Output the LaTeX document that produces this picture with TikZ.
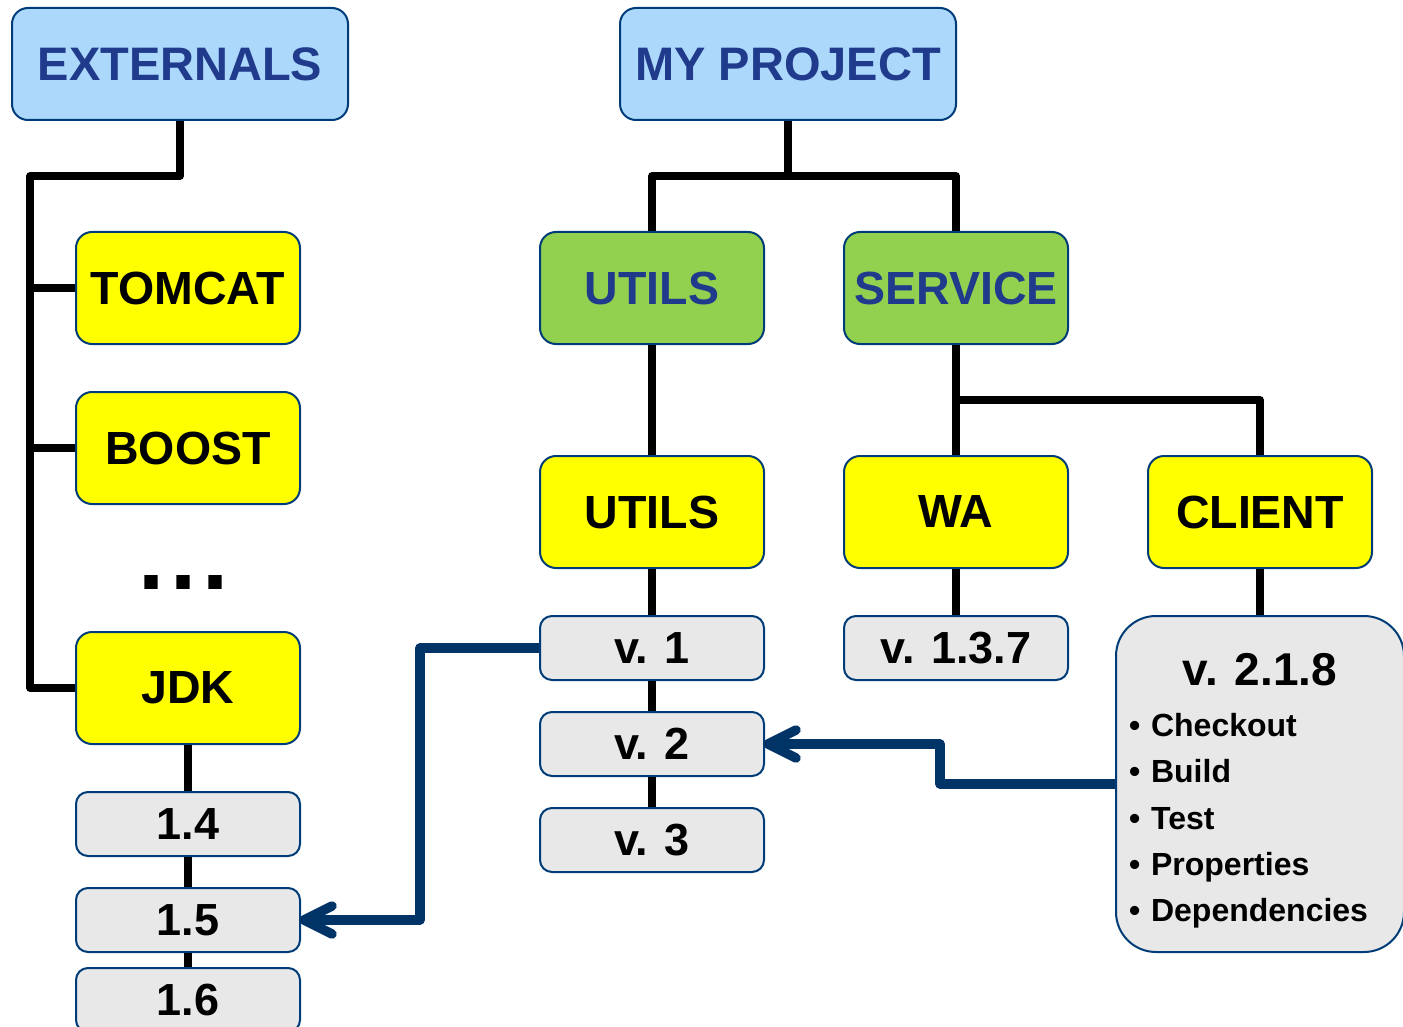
\documentclass[tikz,border=0pt]{standalone}
\usepackage{fontspec}
\setmainfont{Liberation Sans}
\usetikzlibrary{calc}
\definecolor{bordc}{RGB}{0,60,120}
\definecolor{arrc}{RGB}{0,51,102}
\definecolor{titc}{RGB}{32,58,140}
\definecolor{lblue}{RGB}{172,216,252}
\definecolor{lgreen}{RGB}{146,208,80}
\definecolor{lyellow}{RGB}{255,255,0}
\definecolor{lgray}{RGB}{232,232,232}
\tikzset{
  box/.style={draw=bordc, line width=2pt, rounded corners=16pt, minimum width=224pt, minimum height=112pt, inner sep=0pt, font=\fontsize{46.5}{50}\selectfont\bfseries},
  topbox/.style={box, fill=lblue, minimum width=336pt, text=titc, font=\fontsize{47}{52}\selectfont\bfseries},
  grnbox/.style={box, fill=lgreen, text=titc},
  ylwbox/.style={box, fill=lyellow},
  verbox/.style={box, fill=lgray, rounded corners=12pt, minimum height=64pt, font=\fontsize{45}{50}\selectfont\bfseries},
  conn/.style={draw=black, line width=7.5pt, line join=round},
  dep/.style={draw=arrc, line width=9.5pt, line join=round},
  barb/.style={draw=arrc, line width=9.5pt, line join=round, line cap=round}
}
\begin{document}
\begin{tikzpicture}[x=1pt,y=-1pt]
\useasboundingbox (0,0) rectangle (1403,1027);
\coordinate (ea) at (180,176);
\coordinate (eb) at (30,176);
\coordinate (et) at (30,288);
\coordinate (ebst) at (30,448);
\coordinate (pa) at (788,176);
\coordinate (pl) at (652,176);
\coordinate (pr) at (956,176);
\coordinate (sa) at (956,400);
\coordinate (sr) at (1260,400);
\coordinate (ba) at (420,648);
\coordinate (bb) at (420,920);
\coordinate (ca) at (940,784);
\coordinate (cb) at (940,744);

% boxes
\node[topbox] (ext) at (180,64) {EXTERNALS};
\node[topbox] (proj) at (788,64) {MY PROJECT};
\node[ylwbox] (tomcat) at (188,288) {TOMCAT};
\node[ylwbox] (boost) at (188,448) {BOOST};
\node[font=\fontsize{94}{100}\selectfont\bfseries, inner sep=0pt, anchor=base] (dots) at (183.5,589) {.\hspace{6pt}.\hspace{6pt}.};
\node[ylwbox] (jdk) at (188,688) {JDK};
\node[verbox] (j14) at (188,824) {1.4};
\node[verbox] (j15) at (188,920) {1.5};
\node[verbox] (j16) at (188,1000) {1.6};
\node[grnbox] (utilsg) at (652,288) {UTILS};
\node[grnbox] (service) at (956,288) {SERVICE};
\node[ylwbox] (utilsy) at (652,512) {UTILS};
\node[ylwbox] (wa) at (956,512) {WA};
\node[ylwbox] (client) at (1260,512) {CLIENT};
\node[verbox] (v1) at (652,648) {v. 1};
\node[verbox] (v2) at (652,744) {v. 2};
\node[verbox] (v3) at (652,840) {v. 3};
\node[verbox] (v137) at (956,648) {v. 1.3.7};
\node[verbox, rounded corners=40pt, minimum width=288pt, minimum height=336pt] (v218) at (1260,784) {};
\node[font=\fontsize{46}{50}\selectfont\bfseries, inner sep=0pt, anchor=base] (v218t) at (1260,685) {v. 2.1.8};
\node[font=\fontsize{32}{46.4}\selectfont\bfseries, inner sep=0pt, anchor=north west, align=left, text width=270pt] (v218l) at (1129,713) {\textbullet\ Checkout\\\textbullet\ Build\\\textbullet\ Test\\\textbullet\ Properties\\\textbullet\ Dependencies};

% black tree connectors
\draw[conn] (ext.south) -- (ea) -- (eb) |- (jdk.west);
\draw[conn] (et) -- (tomcat.west);
\draw[conn] (ebst) -- (boost.west);
\draw[conn] (jdk.south) -- (j14.north);
\draw[conn] (j14.south) -- (j15.north);
\draw[conn] (j15.south) -- (j16.north);
\draw[conn] (proj.south) -- (pa);
\draw[conn] (utilsg.north) -- (pl) -- (pr) -- (service.north);
\draw[conn] (utilsg.south) -- (utilsy.north);
\draw[conn] (utilsy.south) -- (v1.north);
\draw[conn] (v1.south) -- (v2.north);
\draw[conn] (v2.south) -- (v3.north);
\draw[conn] (service.south) -- (wa.north);
\draw[conn] (sa) -- (sr) -- (client.north);
\draw[conn] (wa.south) -- (v137.north);
\draw[conn] (client.south) -- (v218.north);
% dependency arrows
\draw[dep] (v1.west) -- (ba) -- (bb) -- ($(j15.east)+(4,0)$);
\draw[barb] ($(j15.east)+(31,-14)$) -- ($(j15.east)+(3,0)$) -- ($(j15.east)+(31,14)$);
\draw[dep] (v218.west) -- (ca) -- (cb) -- ($(v2.east)+(4,0)$);
\draw[barb] ($(v2.east)+(31,-14)$) -- ($(v2.east)+(3,0)$) -- ($(v2.east)+(31,14)$);
\end{tikzpicture}
\end{document}
